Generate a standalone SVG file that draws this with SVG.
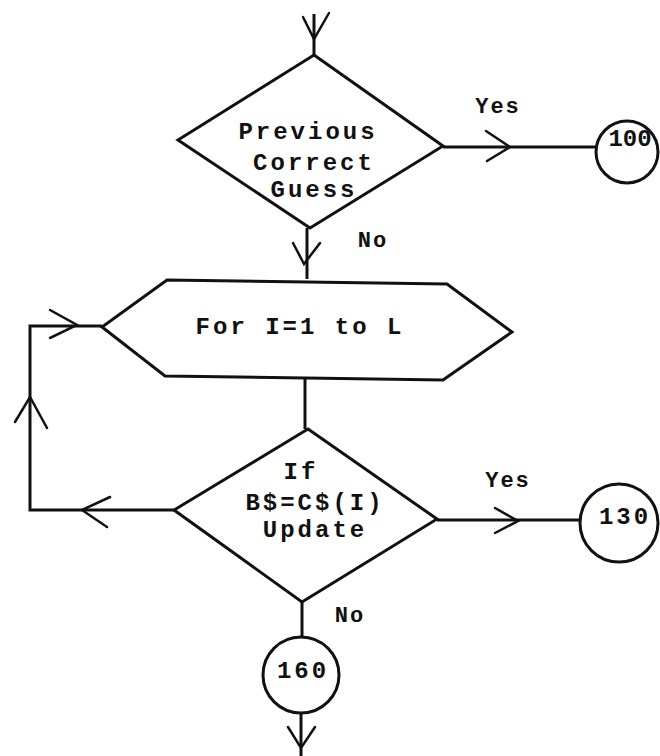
<svg xmlns="http://www.w3.org/2000/svg" width="660" height="756" viewBox="0 0 660 756">
<style>
.s{fill:#fff;stroke:#111;stroke-width:3;stroke-linejoin:miter}
.l{fill:none;stroke:#111;stroke-width:3}
.a{fill:none;stroke:#111;stroke-width:2.5;stroke-linecap:round}
.t{font-family:"Liberation Mono","DejaVu Sans Mono",monospace;font-weight:bold;font-size:24px;letter-spacing:3px;fill:#111;text-anchor:middle}
.m{font-size:22px;letter-spacing:2px}
.n{letter-spacing:0px}
</style>
<rect width="660" height="756" fill="#fff"/>
<g id="connectors">
<path class="l" d="M314,14 V55"/>
<path class="a" d="M303,17 L314,39 L329,13"/>
<path class="l" d="M443,147 H597"/>
<path class="a" d="M486,131 L510,147 L487,161"/>
<path class="l" d="M307,228 V279"/>
<path class="a" d="M293,243 L304,264 L320,243"/>
<path class="l" d="M102,326 H30 V510 H174"/>
<path class="a" d="M50,310 L77,325 L50,338"/>
<path class="a" d="M15,422 L30,397 L47,428"/>
<path class="a" d="M110,497 L82,510 L107,527"/>
<path class="l" d="M305,378 V429"/>
<path class="l" d="M437,520 H580"/>
<path class="a" d="M495,508 L518,521 L495,533"/>
<path class="l" d="M302,602 V637"/>
<path class="l" d="M301,713 V756"/>
<path class="a" d="M288,727 L301,748 L315,727"/>
</g>
<g id="d1">
<polygon class="s" points="314,55 443,146 310,228 178,140"/>
<text class="t" x="308" y="139">Previous</text>
<text class="t" x="314" y="170">Correct</text>
<text class="t" x="314" y="197">Guess</text>
</g>
<g id="yes1"><text class="t m" x="498" y="113">Yes</text></g>
<g id="c100">
<circle class="s" cx="627" cy="152" r="31"/>
<text class="t n" x="630" y="146">100</text>
</g>
<g id="no1"><text class="t m" x="373" y="247">No</text></g>
<g id="loop">
<polygon class="s" points="167,280 447,284 512,332 443,380 165,376 102,327"/>
<text class="t" x="300" y="334">For I=1 to L</text>
</g>
<g id="d2">
<polygon class="s" points="308,429 437,519 302,602 174,510"/>
<text class="t" x="301" y="479">If</text>
<text class="t" x="315" y="510">B$=C$(I)</text>
<text class="t" x="315" y="537">Update</text>
</g>
<g id="yes2"><text class="t m" x="508" y="487">Yes</text></g>
<g id="c130">
<circle class="s" cx="619" cy="523" r="39"/>
<text class="t" x="625" y="524">130</text>
</g>
<g id="no2"><text class="t m" x="350" y="622">No</text></g>
<g id="c160">
<circle class="s" cx="301" cy="675" r="38"/>
<text class="t" x="303" y="678">160</text>
</g>
</svg>
